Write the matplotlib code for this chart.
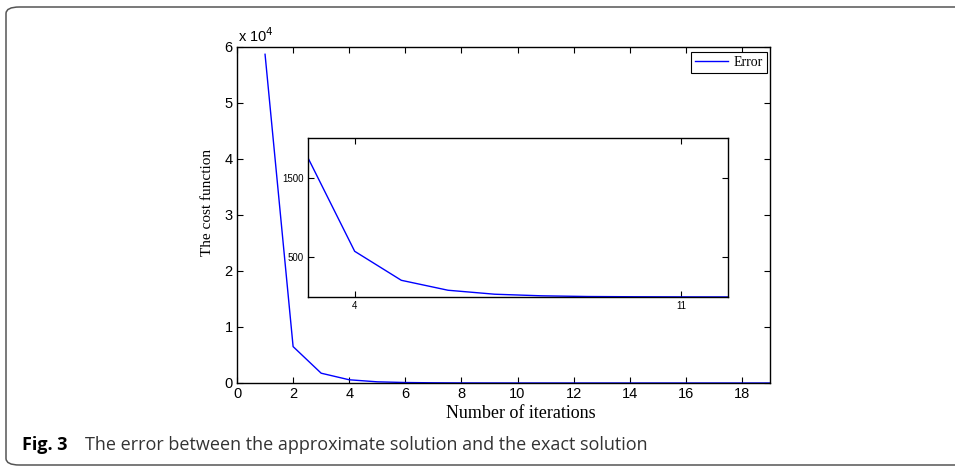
import numpy as np
import matplotlib.pyplot as plt
from matplotlib.patches import FancyBboxPatch
from matplotlib.ticker import FuncFormatter

# ==========================================
# DATOS
# ==========================================
iteraciones = np.arange(1, 20)
error = [58700, 6500, 1750, 575, 210, 85, 35, 15, 6, 3, 1.5, 0.8, 0.4,
         0.2, 0.1, 0.05, 0.03, 0.02, 0.01]

xticks_main = [0, 2, 4, 6, 8, 10, 12, 14, 16, 18]
yticks_main = [0, 1e4, 2e4, 3e4, 4e4, 5e4, 6e4]
xticks_inset = [4, 11]
yticks_inset = [500, 1500]

sans = ['Liberation Sans', 'DejaVu Sans']
serif = ['Liberation Serif', 'DejaVu Serif']
W, H = 955, 467

fig = plt.figure(figsize=(W / 100, H / 100), dpi=100)

# marco redondeado de la figura
marco = FancyBboxPatch((6 / W, 2 / H), 1.2, 458 / H,
                       boxstyle='round,pad=0,rounding_size=0.014',
                       transform=fig.transFigure, fill=False,
                       edgecolor='#555555', linewidth=1.1)
fig.patches.append(marco)

# ==========================================
# GRÁFICA PRINCIPAL
# ==========================================
# ejes en píxeles: izq 237, der 770, arriba 47, abajo 383
ax = fig.add_axes([237 / W, (H - 383) / H, 533 / W, 336 / H])
ax.plot(iteraciones, error, color='blue', linewidth=1.0, label='Error')
ax.set_xlim(0, 19)
ax.set_ylim(0, 6e4)
ax.set_xticks(xticks_main)
ax.set_yticks(yticks_main)
ax.yaxis.set_major_formatter(FuncFormatter(lambda v, p: f'{v / 1e4:g}'))
ax.tick_params(direction='in', top=True, right=True, length=4, width=0.8,
               labelsize=10.5, pad=3)
for lab in ax.get_xticklabels() + ax.get_yticklabels():
    lab.set_family(sans)
for s in ax.spines.values():
    s.set_linewidth(1.0)
ax.text(0.002, 1.006, r'x 10$^{4}$', transform=ax.transAxes, fontsize=10.5,
        family=sans, ha='left', va='bottom')
ax.set_xlabel('Number of iterations', family=serif, fontsize=13)
ax.xaxis.set_label_coords((521 - 237) / 533, (383 - 413) / 336)
ax.xaxis.label.set_va('center')
ax.set_ylabel('The cost function', family=serif, fontsize=11)
ax.yaxis.set_label_coords((207 - 237) / 533, (383 - 202) / 336)
ax.yaxis.label.set_va('center')
leg = ax.legend(loc='upper right', bbox_to_anchor=((767 - 237) / 533, (383 - 52) / 336),
                prop={'family': serif, 'size': 10},
                fancybox=False, edgecolor='black', framealpha=1,
                borderaxespad=0, handlelength=2.4, borderpad=0.3,
                handletextpad=0.4)
leg.get_frame().set_linewidth(0.8)

# ==========================================
# GRÁFICA INSERTADA (ZOOM)
# ==========================================
axi = fig.add_axes([308 / W, (H - 297) / H, 420 / W, 159 / H])
axi.plot(iteraciones, error, color='blue', linewidth=1.0)
axi.set_xlim(3, 12)
axi.set_ylim(0, 2000)
axi.set_xticks(xticks_inset)
axi.set_yticks(yticks_inset)
axi.tick_params(direction='in', top=True, right=True, length=4, width=0.8,
                labelsize=7, pad=3)
for lab in axi.get_xticklabels() + axi.get_yticklabels():
    lab.set_family(sans)
for s in axi.spines.values():
    s.set_linewidth(1.0)

# ==========================================
# PIE DE FIGURA
# ==========================================
fig.text(22 / W, 1 - 445 / H, 'Fig. 3', fontsize=13, fontweight='bold',
         family=['Open Sans', 'DejaVu Sans'], va='center', ha='left')
fig.text(85 / W, 1 - 445 / H,
         'The error between the approximate solution and the exact solution',
         fontsize=13, family=['Open Sans', 'DejaVu Sans'], color='#333333',
         va='center', ha='left')

fig.savefig('out.png', dpi=100)
